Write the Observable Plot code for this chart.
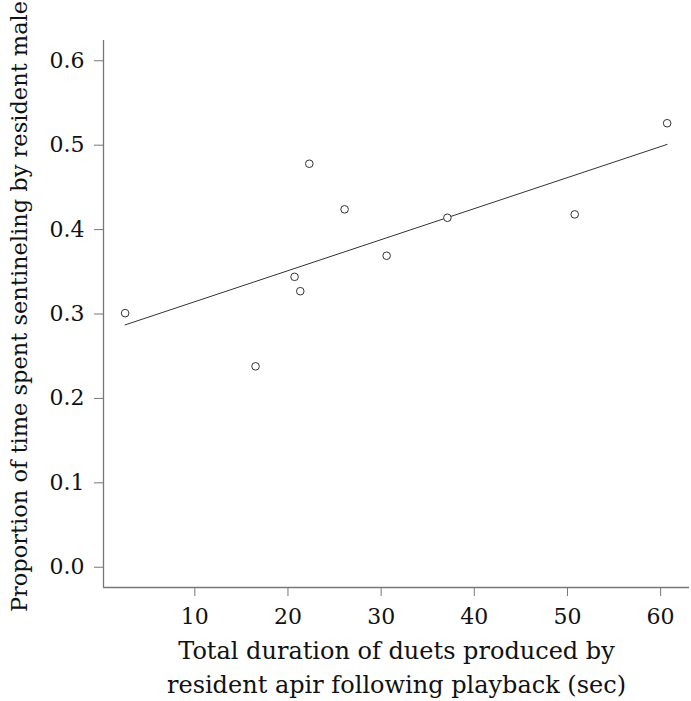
<!DOCTYPE html>
<html>
<head>
<meta charset="utf-8">
<script src="https://cdn.jsdelivr.net/npm/d3@7"></script>
<script src="https://cdn.jsdelivr.net/npm/@observablehq/plot@0.6"></script>
<style>
  html, body { margin: 0; padding: 0; background: white; }
  svg, svg text { font-family: "DejaVu Serif", serif !important; }
</style>
</head>
<body>
<div id="chart"></div>
<script>
const durations = [2.52, 16.52, 20.71, 21.32, 22.29, 26.08, 30.59, 37.11, 50.78, 60.70];
const proportions = [0.301, 0.238, 0.344, 0.327, 0.478, 0.424, 0.369, 0.414, 0.418, 0.526];
const xTicks = [10, 20, 30, 40, 50, 60];
const yTicks = [0, 0.1, 0.2, 0.3, 0.4, 0.5, 0.6];
const xDomain = [0.2, 63.1];
const yDomain = [-0.024, 0.624];
const xTitle = "Total duration of duets produced by\nresident apir following playback (sec)";
const yTitle = "Proportion of time spent sentineling by resident male";

const data = durations.map((d, i) => ({duration: d, proportion: proportions[i]}));
const font = "DejaVu Serif";

const chart = Plot.plot({
  width: 691,
  height: 701,
  marginLeft: 103,
  marginRight: 2,
  marginTop: 40,
  marginBottom: 114,
  x: {domain: xDomain},
  y: {domain: yDomain},
  style: {fontSize: "22px", background: "white", color: "#111"},
  marks: [
    Plot.ruleX([xDomain[0]], {stroke: "#777", strokeWidth: 1.3}),
    Plot.ruleY([yDomain[0]], {stroke: "#777", strokeWidth: 1.3}),
    Plot.axisX(xTicks, {tickSize: 9, tickPadding: 12, fontSize: 22, fontFamily: font, stroke: "#777", fill: "#111", tickFormat: d => String(d), label: null}),
    Plot.axisY(yTicks, {tickSize: 9, tickPadding: 10, fontSize: 22, fontFamily: font, stroke: "#777", fill: "#111", tickFormat: d3.format(".1f"), label: null}),
    Plot.linearRegressionY(data, {x: "duration", y: "proportion", ci: 0, stroke: "#333", strokeWidth: 1}),
    Plot.dot(data, {x: "duration", y: "proportion", r: 3.8, stroke: "#333", strokeWidth: 1, fill: "white"}),
    Plot.text([xTitle], {frameAnchor: "bottom", lineAnchor: "top", textAnchor: "middle", dy: 48, lineHeight: 1.4, fontSize: 24, fontFamily: font, fill: "#111"}),
    Plot.text([yTitle], {frameAnchor: "left", textAnchor: "middle", dx: -83.4, dy: -7.5, rotate: -90, fontSize: 22.5, fontFamily: font, fill: "#111"})
  ]
});
document.getElementById("chart").appendChild(chart);
</script>
</body>
</html>
